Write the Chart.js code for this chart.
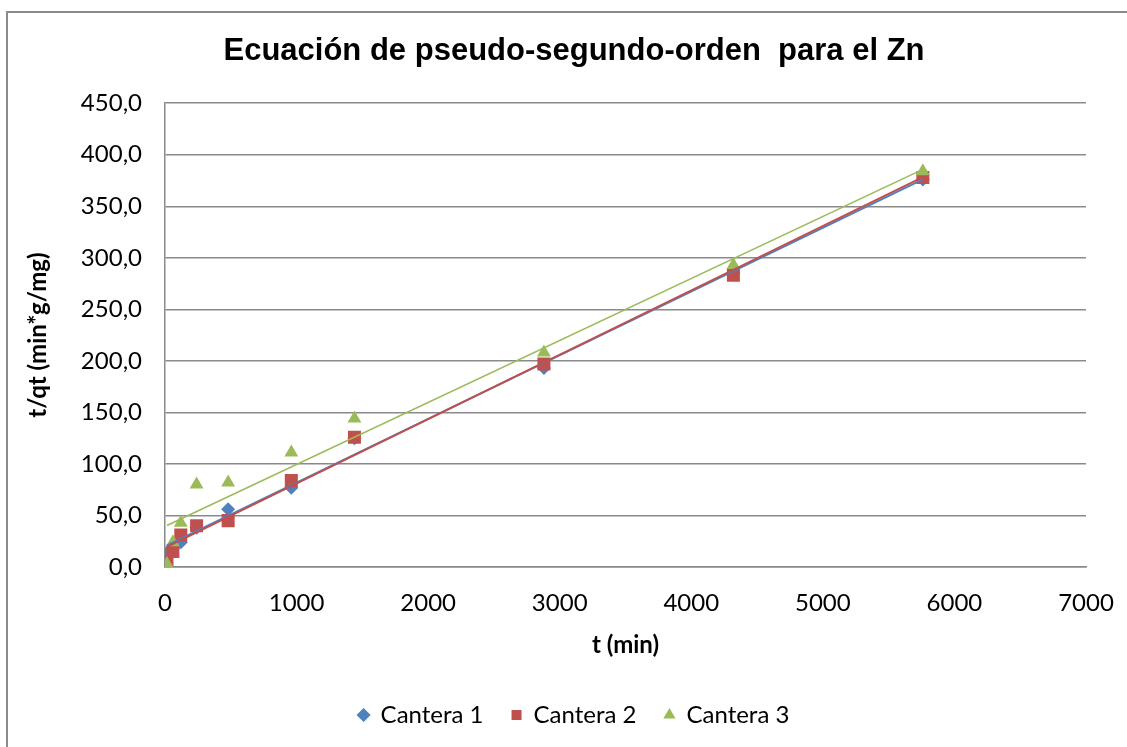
<!DOCTYPE html>
<html>
<head>
<meta charset="utf-8">
<script src="https://cdn.jsdelivr.net/npm/chart.js@4.4.0/dist/chart.umd.min.js"></script>
<style>
  html, body { margin: 0; padding: 0; background: #ffffff; overflow: hidden; }
  #frame { position: absolute; left: 6px; top: 11px; width: 1132px; height: 740px; border: 2px solid #8a8a8a; background: #ffffff; }
  canvas { display: block; }
</style>
</head>
<body>
<div id="frame"><canvas id="chart" width="1132" height="740"></canvas></div>
<script>
// Sampling times (min) and t/qt values (min*g/mg) for each quarry
const tiempos  = [15, 60, 120, 240, 480, 960, 1440, 2880, 4320, 5760];
const cantera1 = [14, 18, 24, 38, 56, 77, 125, 193, 285, 376];
const cantera2 = [4, 15, 31, 40, 45, 84, 126, 197, 283, 378];
const cantera3 = [3, 24, 43, 80, 82, 111, 144, 208, 293, 384];

const seriesNames  = ['Cantera 1', 'Cantera 2', 'Cantera 3'];
const seriesValues = [cantera1, cantera2, cantera3];
const seriesColors = ['#4F81BD', '#C0504D', '#9BBB59'];
const markerStyles = ['rectRot', 'rect', 'triangle'];
const markerRadius = [7, 9.2, 8];
const trendWidths  = [2, 2, 1.6];

const xTickValues = [0, 1000, 2000, 3000, 4000, 5000, 6000, 7000];
const yTickValues = [0, 50, 100, 150, 200, 250, 300, 350, 400, 450];

const GRID = '#8a8a8a';

// Least-squares straight line through one series
function linearFit(xs, ys) {
  const n = xs.length;
  const mx = xs.reduce((a, b) => a + b, 0) / n;
  const my = ys.reduce((a, b) => a + b, 0) / n;
  let sxy = 0, sxx = 0;
  for (let i = 0; i < n; i++) {
    sxy += (xs[i] - mx) * (ys[i] - my);
    sxx += (xs[i] - mx) * (xs[i] - mx);
  }
  const slope = sxy / sxx;
  return { slope, intercept: my - slope * mx };
}

const datasets = [];
seriesValues.forEach((vals, i) => {
  datasets.push({
    type: 'scatter',
    label: seriesNames[i],
    data: tiempos.map((t, j) => ({ x: t, y: vals[j] })),
    backgroundColor: seriesColors[i],
    borderColor: seriesColors[i],
    borderWidth: 0,
    pointStyle: markerStyles[i],
    pointRadius: markerRadius[i],
    pointHoverRadius: markerRadius[i],
    order: 10 - i
  });
});
seriesValues.forEach((vals, i) => {
  const fit = linearFit(tiempos, vals);
  const t0 = Math.min(...tiempos), t1 = Math.max(...tiempos);
  datasets.push({
    type: 'line',
    label: 'Lineal (' + seriesNames[i] + ')',
    data: [{ x: t0, y: fit.intercept + fit.slope * t0 }, { x: t1, y: fit.intercept + fit.slope * t1 }],
    borderColor: seriesColors[i],
    borderWidth: trendWidths[i],
    pointRadius: 0,
    fill: false,
    tension: 0,
    order: 2 - i
  });
});

const tickFont = { family: 'Lato', size: 24 };
const titleFont = { family: 'Lato', size: 24, weight: 'bold' };

new Chart(document.getElementById('chart'), {
  type: 'scatter',
  data: { datasets },
  options: {
    responsive: false,
    animation: false,
    events: [],
    // equal side padding keeps the title and legend centred on the whole frame
    layout: { padding: { top: 10, left: 54, right: 54, bottom: 16 } },
    plugins: {
      tooltip: { enabled: false },
      title: {
        display: true,
        text: 'Ecuación de pseudo-segundo-orden  para el Zn',
        color: '#000000',
        font: { family: 'Liberation Sans', size: 31, weight: 'bold' },
        padding: { top: 10, bottom: 33 }
      },
      legend: {
        position: 'bottom',
        labels: {
          usePointStyle: true,
          boxWidth: 10,
          boxHeight: 10,
          padding: 28,
          color: '#000000',
          font: tickFont,
          filter: (item) => item.datasetIndex < 3,
          sort: (a, b) => a.datasetIndex - b.datasetIndex
        }
      }
    },
    scales: {
      x: {
        type: 'linear',
        min: 0,
        max: 7000,
        afterBuildTicks: (s) => { s.ticks = xTickValues.map(v => ({ value: v })); },
        afterFit: (s) => { s.height = 108; },
        ticks: { font: tickFont, color: '#000000', padding: 22, maxRotation: 0, callback: (v) => String(v) },
        grid: { display: false, drawTicks: false },
        border: { display: true, color: GRID, width: 1.5 },
        title: { display: true, text: 't (min)', color: '#000000', font: titleFont, padding: { top: 0, bottom: 15.6 } }
      },
      y: {
        type: 'linear',
        min: 0,
        max: 450,
        afterBuildTicks: (s) => { s.ticks = yTickValues.map(v => ({ value: v })); },
        afterFit: (s) => { s.width = 103; },
        ticks: { font: tickFont, color: '#000000', padding: 23, callback: (v) => v.toFixed(1).replace('.', ',') },
        grid: { color: GRID, lineWidth: 1.5, drawTicks: false },
        border: { display: true, color: GRID, width: 1.5 },
        // axis title sits in the left margin, outside the axis box
        title: { display: true, text: 't/qt (min*g/mg)', color: '#000000', font: titleFont, padding: { top: -38.4, bottom: 0 } }
      }
    }
  }
});
</script>
</body>
</html>
